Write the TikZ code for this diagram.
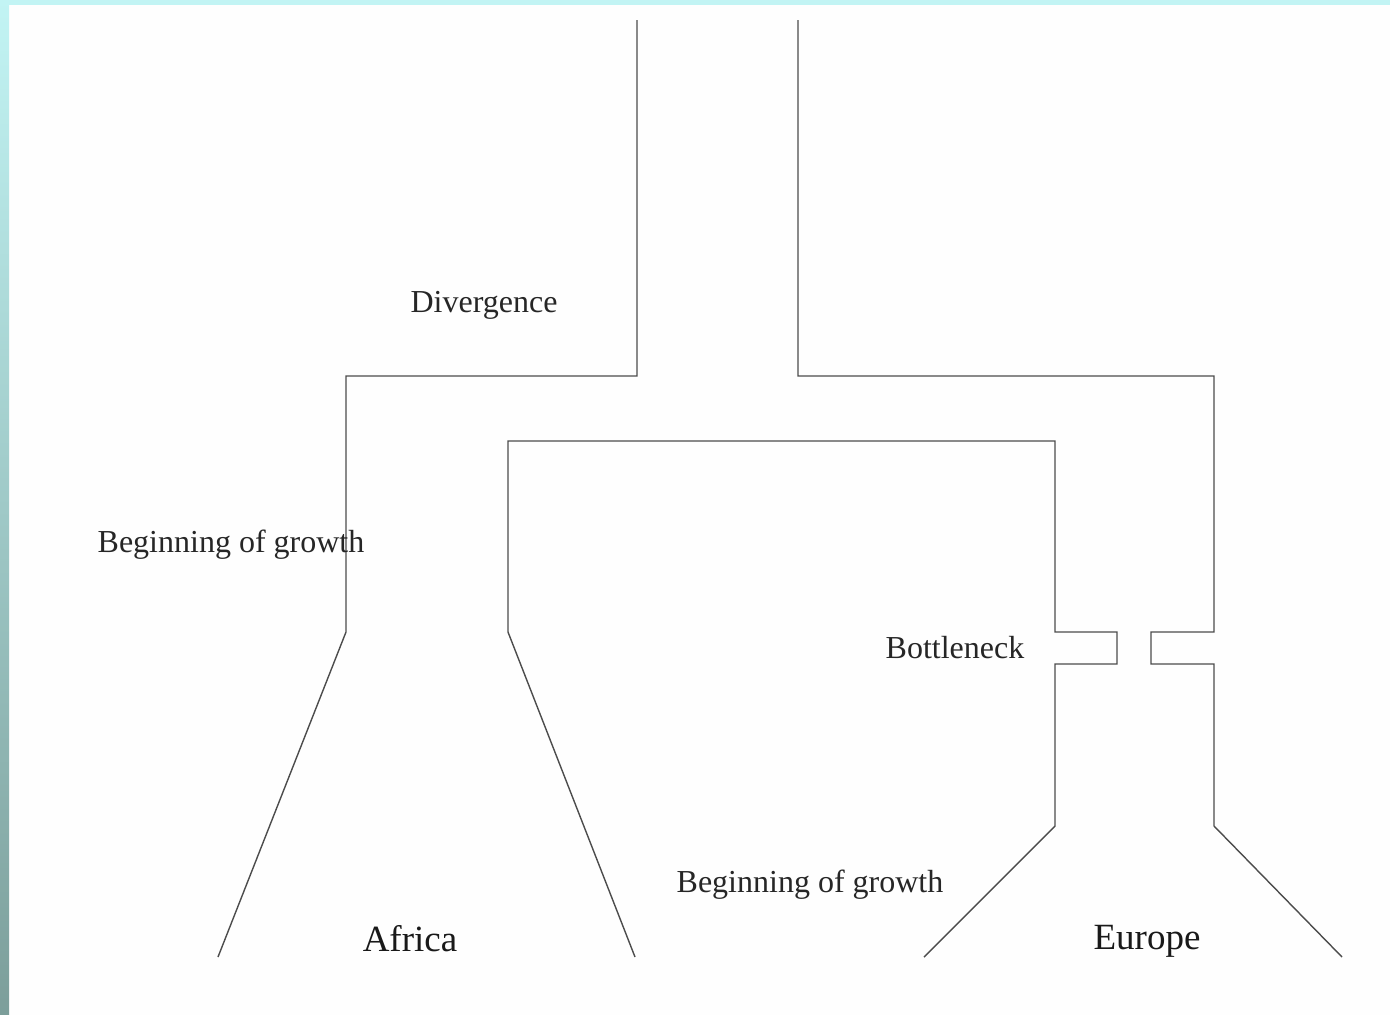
\documentclass[tikz,border=0pt]{standalone}
\usepackage{fontspec}
\setmainfont{Liberation Serif}
\definecolor{stripTop}{RGB}{194,244,244}
\definecolor{stripBot}{RGB}{124,158,154}
\definecolor{pagebg}{RGB}{254,254,254}
\begin{document}
\begin{tikzpicture}[x=1pt,y=1pt,
  wall/.style={draw=black!70,line width=1.4pt,line join=miter},
  small/.style={font=\fontsize{32}{37}\selectfont,text=black!85,inner sep=0pt},
  big/.style={font=\fontsize{37}{42}\selectfont,text=black!90,inner sep=0pt}]
\useasboundingbox (0,0) rectangle (1390,-1015);
\fill[pagebg] (0,0) rectangle (1390,-1015);
\shade[top color=stripTop, bottom color=stripBot] (0,0) rectangle (9,-1015);
\fill[stripTop] (0,0) rectangle (1390,-5);
% left lineage
\draw[wall] (637,-20) -- (637,-376) -- (346,-376) -- (346,-632) -- (218,-957);
% outer right
\draw[wall] (798,-20) -- (798,-376) -- (1214,-376) -- (1214,-632) -- (1151,-632) -- (1151,-664) -- (1214,-664) -- (1214,-826) -- (1342,-957);
% inner
\draw[wall] (635,-957) -- (508,-632) -- (508,-441) -- (1055,-441) -- (1055,-632) -- (1117,-632) -- (1117,-664) -- (1055,-664) -- (1055,-826) -- (924,-957);
\node[small] (div) at (484,-305) {Divergence};
\node[small] (bg1) at (231,-545) {Beginning of growth};
\node[small] (bot) at (955,-648) {Bottleneck};
\node[small] (bg2) at (810,-885) {Beginning of growth};
\node[big] (afr) at (410,-939) {Africa};
\node[big] (eur) at (1147,-941) {Europe};
\end{tikzpicture}
\end{document}
